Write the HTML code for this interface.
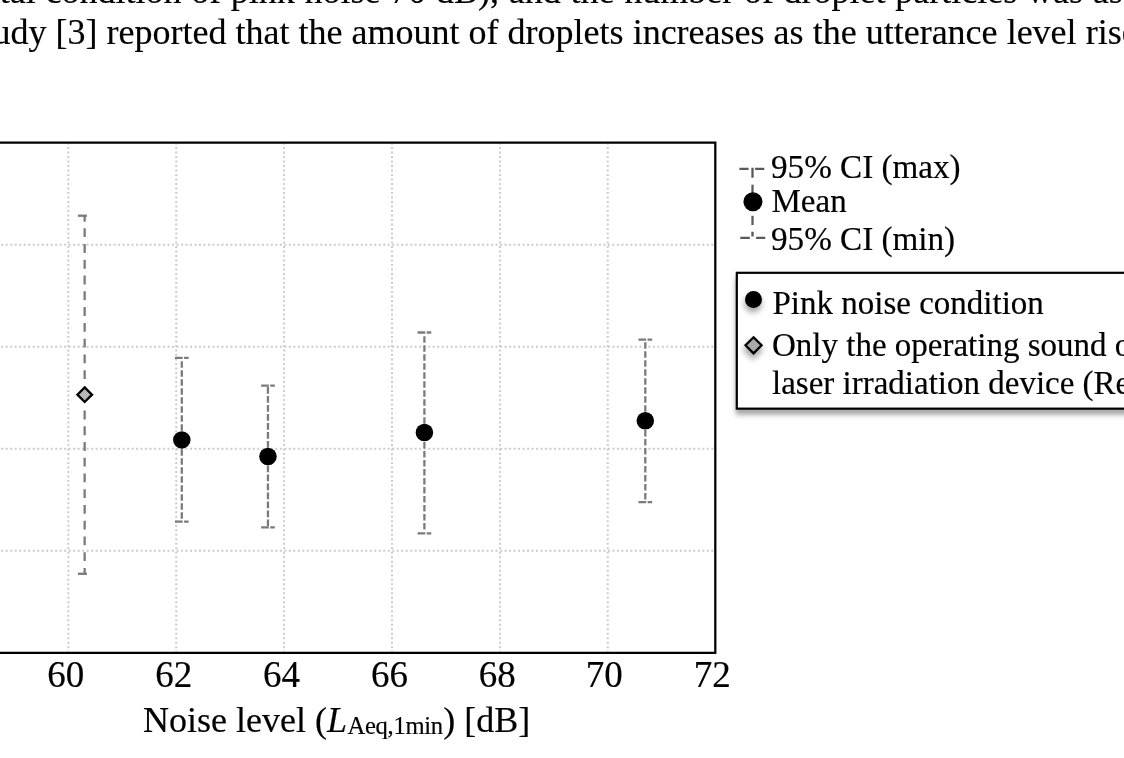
<!DOCTYPE html>
<html lang="en"><head><meta charset="utf-8"><title>Figure</title>
<style>
html,body{margin:0;padding:0;background:#fff;}
body{width:1124px;height:758px;overflow:hidden;}
svg{display:block;}
text{font-family:"Liberation Serif",serif;fill:#000;stroke:#000;stroke-width:0.18px;stroke-linejoin:round;}
.it{font-style:italic;}
</style></head><body>
<svg width="1124" height="758" viewBox="0 0 1124 758">
<defs>
<filter id="sh" x="-50%" y="-50%" width="200%" height="200%"><feGaussianBlur stdDeviation="3.1"/></filter>
<filter id="shb" x="-10%" y="-20%" width="120%" height="140%"><feGaussianBlur stdDeviation="2.9"/></filter>
</defs>
<rect width="1124" height="758" fill="#fff"/>
<text x="-0.30" y="3.20" font-size="36" word-spacing="0.73" xml:space="preserve">tal condition of pink noise 70 dB), and the number of droplet particles was as</text>
<text x="-7.60" y="44.00" font-size="36" word-spacing="0.05" xml:space="preserve">udy [3] reported that the amount of droplets increases as the utterance level rises</text>
<g fill="none" stroke="#cccccc" stroke-width="2">
<g stroke-dasharray="2 2.497">
<path d="M68.35 142.60 V651.85"/>
<path d="M176.23 142.60 V651.85"/>
<path d="M284.11 142.60 V651.85"/>
<path d="M391.99 142.60 V651.85"/>
<path d="M499.87 142.60 V651.85"/>
<path d="M607.75 142.60 V651.85"/>
</g><g stroke-dasharray="2 2.494">
<path d="M-3.26 244.70 H714.30"/>
<path d="M-3.26 346.75 H714.30"/>
<path d="M-3.26 448.80 H714.30"/>
<path d="M-3.26 550.80 H714.30"/>
</g></g>
<g fill="none" stroke="#7b7b7b" stroke-width="2.3">
<path d="M84.65 215.70V221.7M84.65 228.20V237.10M84.65 243.98V252.88M84.65 259.76V268.66M84.65 275.54V284.44M84.65 291.32V300.22M84.65 307.10V316.00M84.65 322.88V331.78M84.65 338.66V347.56M84.65 354.44V363.34M84.65 370.22V379.12"/>
<path d="M84.65 410.60V419.40M84.65 426.34V435.14M84.65 442.08V450.88M84.65 457.82V466.62M84.65 473.56V482.36M84.65 489.30V498.10M84.65 505.04V513.84M84.65 520.78V529.58M84.65 536.52V545.32M84.65 552.26V561.06M84.65 568.00V573.80"/>
<path d="M77.90 215.70H86.90"/>
<path d="M77.90 573.80H86.90"/>
<path d="M181.80 361.20V367.75M181.80 370.20V376.75M181.80 379.20V385.75M181.80 388.20V394.75M181.80 397.20V403.75M181.80 406.20V412.75M181.80 415.20V421.75M181.80 424.20V430.75M181.80 433.20V439.75"/>
<path d="M181.80 512.20V518.75M181.80 503.20V509.75M181.80 494.20V500.75M181.80 485.20V491.75M181.80 476.20V482.75M181.80 467.20V473.75M181.80 458.20V464.75M181.80 449.20V455.75M181.80 440.20V446.75"/>
<path d="M174.95 357.90H182.70M184.10 357.90H188.65"/>
<path d="M174.95 521.60H182.70M184.10 521.60H188.65"/>
<path d="M267.95 387.10V393.65M267.95 396.10V402.65M267.95 405.10V411.65M267.95 414.10V420.65M267.95 423.10V429.65M267.95 432.10V438.65M267.95 441.10V447.65M267.95 450.10V456.45"/>
<path d="M267.95 519.60V526.15M267.95 510.60V517.15M267.95 501.60V508.15M267.95 492.60V499.15M267.95 483.60V490.15M267.95 474.60V481.15M267.95 465.60V472.15M267.95 456.60V463.15"/>
<path d="M261.10 385.70H268.85M270.25 385.70H274.80"/>
<path d="M261.10 527.35H268.85M270.25 527.35H274.80"/>
<path d="M424.40 336.20V342.75M424.40 345.20V351.75M424.40 354.20V360.75M424.40 363.20V369.75M424.40 372.20V378.75M424.40 381.20V387.75M424.40 390.20V396.75M424.40 399.20V405.75M424.40 408.20V414.75M424.40 417.20V423.75M424.40 426.20V432.50"/>
<path d="M424.40 523.00V529.55M424.40 514.00V520.55M424.40 505.00V511.55M424.40 496.00V502.55M424.40 487.00V493.55M424.40 478.00V484.55M424.40 469.00V475.55M424.40 460.00V466.55M424.40 451.00V457.55M424.40 442.00V448.55M424.40 433.00V439.55"/>
<path d="M417.55 332.50H425.30M426.70 332.50H431.25"/>
<path d="M417.55 533.45H425.30M426.70 533.45H431.25"/>
<path d="M645.30 342.30V348.85M645.30 351.30V357.85M645.30 360.30V366.85M645.30 369.30V375.85M645.30 378.30V384.85M645.30 387.30V393.85M645.30 396.30V402.85M645.30 405.30V411.85M645.30 414.30V420.80"/>
<path d="M645.30 493.00V499.55M645.30 484.00V490.55M645.30 475.00V481.55M645.30 466.00V472.55M645.30 457.00V463.55M645.30 448.00V454.55M645.30 439.00V445.55M645.30 430.00V436.55M645.30 421.00V427.55"/>
<path d="M638.45 339.70H646.20M647.60 339.70H652.15"/>
<path d="M638.45 502.20H646.20M647.60 502.20H652.15"/>
</g>
<circle cx="181.80" cy="439.90" r="8.75" fill="#000"/>
<circle cx="267.95" cy="456.45" r="8.75" fill="#000"/>
<circle cx="424.40" cy="432.50" r="8.75" fill="#000"/>
<circle cx="645.30" cy="420.80" r="8.75" fill="#000"/>
<path d="M84.70 387.35L92.00 394.65L84.70 401.95L77.40 394.65Z" fill="#b7b7b7" stroke="#000" stroke-width="2.3" stroke-linejoin="miter"/>
<path d="M-5 142.60H715.30V652.85H-5" fill="none" stroke="#000" stroke-width="2.25" stroke-linejoin="miter"/>
<text x="65.85" y="686.80" font-size="37" text-anchor="middle">60</text>
<text x="173.73" y="686.80" font-size="37" text-anchor="middle">62</text>
<text x="281.61" y="686.80" font-size="37" text-anchor="middle">64</text>
<text x="389.49" y="686.80" font-size="37" text-anchor="middle">66</text>
<text x="497.37" y="686.80" font-size="37" text-anchor="middle">68</text>
<text x="604.35" y="686.80" font-size="37" text-anchor="middle">70</text>
<text x="712.23" y="686.80" font-size="37" text-anchor="middle">72</text>
<text x="143.00" y="732.40" font-size="36" xml:space="preserve">Noise level (<tspan class="it">L</tspan><tspan font-size="24.6" dy="2" dx="0.6" letter-spacing="-0.32">Aeq,1min</tspan><tspan dy="-2" dx="0.6">) [dB]</tspan></text>
<g fill="none" stroke="#5a5a5a" stroke-width="2.3">
<path d="M739.4 168.9H748.6M752.50 167.8V177.8M755.1 168.9H764.3"/>
<path d="M752.50 184.7V194"/>
<path d="M752.50 215.8V225"/>
<path d="M740.3 237.9H749.8M752.50 231.8V236.6M756.1 237.9H765.2"/>
</g>
<circle cx="752.95" cy="201.7" r="9.55" fill="#000"/>
<text x="771" y="177.8" font-size="33.15">95% CI (max)</text>
<text x="771.5" y="211.8" font-size="33">Mean</text>
<text x="771" y="249.9" font-size="33.15">95% CI (min)</text>
<rect x="735.60" y="277.80" width="420" height="137.10" fill="#000" opacity="0.34" filter="url(#shb)"/>
<rect x="736.80" y="272.80" width="420" height="135.85" fill="#fff" stroke="#000" stroke-width="2.2"/>
<circle cx="753.0" cy="303.7" r="8.5" fill="#000" opacity="0.38" filter="url(#sh)"/>
<circle cx="753.5" cy="299.45" r="8.5" fill="#000"/>
<g opacity="0.38" filter="url(#sh)"><path d="M753.00 341.10L761.40 349.50L753.00 357.90L744.60 349.50Z" fill="#000" stroke="#000" stroke-width="2.3" stroke-linejoin="miter"/></g>
<path d="M753.55 337.30L761.55 345.30L753.55 353.30L745.55 345.30Z" fill="#a9a9a9" stroke="#000" stroke-width="2.3" stroke-linejoin="miter"/>
<text x="772.5" y="313.8" font-size="33">Pink noise condition</text>
<text x="772" y="356.1" font-size="33">Only the operating sound of the</text>
<text x="772" y="393.7" font-size="33">laser irradiation device (Reference)</text>
</svg>
</body></html>
